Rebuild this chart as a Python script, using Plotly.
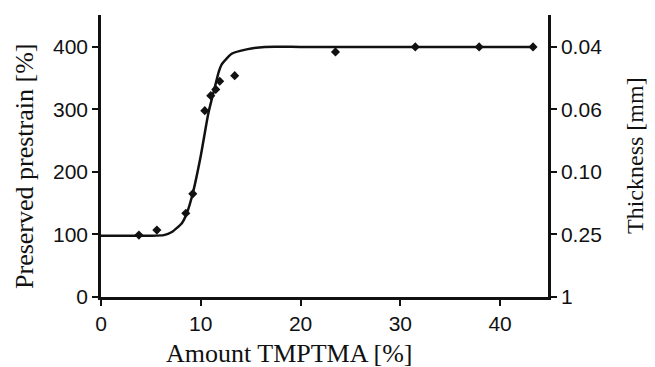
import plotly.graph_objects as go

# Measured data points (Amount TMPTMA [%], Preserved prestrain [%])
amount_pts = [3.8, 5.6, 8.5, 9.2, 10.4, 11.0, 11.5, 11.9, 13.4, 23.5, 31.5, 37.9, 43.3]
prestrain_pts = [99, 107, 134, 165, 298, 322, 332, 345, 354, 392, 400, 400, 400]

# Fitted curve
curve_x = [0, 5, 6.3, 7.1, 8.1, 8.6, 9.2, 10.0, 10.76, 11.4, 11.8, 12.1, 13.1, 14.6, 16.4, 20, 30, 43.5]
curve_y = [98, 98, 99, 104, 118, 134, 166, 226, 294, 335, 360, 372, 389, 396, 400, 400, 400, 400]

x_ticks = [0, 10, 20, 30, 40]
y_ticks = [0, 100, 200, 300, 400]
thickness_labels = ["1", "0.25", "0.10", "0.06", "0.04"]

fig = go.Figure()
fig.add_trace(go.Scatter(x=curve_x, y=curve_y, mode="lines",
                         line=dict(color="#111111", width=2.5, shape="spline", smoothing=0.5),
                         showlegend=False, hoverinfo="skip"))
fig.add_trace(go.Scatter(x=amount_pts, y=prestrain_pts, mode="markers",
                         marker=dict(symbol="diamond", size=7, color="#111111"),
                         showlegend=False))
fig.add_trace(go.Scatter(x=[None], y=[None], yaxis="y2", showlegend=False))

tickfont = dict(family="Liberation Sans, Arial, sans-serif", size=21, color="#111111")
titlefont = dict(family="Liberation Serif, Times New Roman, serif", size=26, color="#111111")
titlefont_r = dict(family="Liberation Serif, Times New Roman, serif", size=24, color="#111111")

axis_common = dict(showline=True, linecolor="#111111", linewidth=2.5,
                   ticks="outside", ticklen=6, tickwidth=2, tickcolor="#111111",
                   showgrid=False, zeroline=False, tickfont=tickfont, automargin=False)

fig.update_layout(
    width=655, height=367,
    margin=dict(l=93, r=115, t=7, b=78),
    paper_bgcolor="white", plot_bgcolor="white",
    xaxis=dict(range=[0, 44.8], tickvals=x_ticks, **axis_common),
    yaxis=dict(range=[0, 451], tickvals=y_ticks, **axis_common),
    yaxis2=dict(range=[0, 451], overlaying="y", side="right", tickvals=y_ticks,
                ticktext=thickness_labels, **axis_common),
    annotations=[
        dict(text="Amount TMPTMA [%]", xref="paper", yref="paper", x=0.4228, y=-0.202,
             xanchor="center", yanchor="middle", showarrow=False, font=titlefont),
        dict(text="Preserved prestrain [%]", xref="paper", yref="paper", x=-0.1723, y=0.4645,
             xanchor="center", yanchor="middle", showarrow=False, font=titlefont, textangle=-90),
        dict(text="Thickness [mm]", xref="paper", yref="paper", x=1.1946, y=0.5035,
             xanchor="center", yanchor="middle", showarrow=False, font=titlefont_r, textangle=-90),
    ],
)

fig.write_html("out.html")
